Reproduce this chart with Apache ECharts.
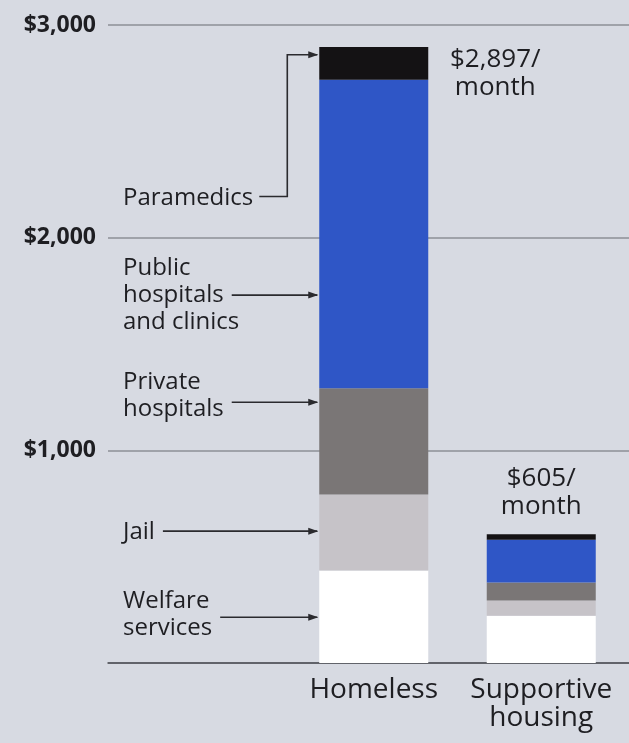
<!DOCTYPE html>
<html>
<head>
<meta charset="utf-8">
<script src="https://cdn.jsdelivr.net/npm/echarts@6/dist/echarts.min.js"></script>
<style>
html,body{margin:0;padding:0;background:#d7dae2;}
#main{width:629px;height:743px;}
</style>
</head>
<body>
<div id="main"></div>
<script>
// ---- data ----
const categories = ['Homeless', 'Supportive\nhousing'];
const welfare = [435, 222];
const jail = [357, 72];
const privateHosp = [500, 85];
const publicHosp = [1450, 201];
const paramedics = [155, 25];
const totals = [2897, 605];
const totalLabels = ['$2,897/\nmonth', '$605/\nmonth'];
const yTicks = [0, 1000, 2000, 3000];
const annotationNames = ['Paramedics', 'Public\nhospitals\nand clinics', 'Private\nhospitals', 'Jail', 'Welfare\nservices'];
const annotationArrowValues = [2860, 1730, 1226, 620, 215];
const annotationTextValues = [2184, 1730, 1255, 615, 225];

// ---- style ----
const FONT = 'Open Sans';
const TEXT = '#1e1e22';
const colors = {
  welfare: '#ffffff',
  jail: '#c6c3c8',
  privateHosp: '#7a7676',
  publicHosp: '#2f56c6',
  paramedics: '#141214'
};
const BAR_W = 109;

const chart = echarts.init(document.getElementById('main'), null, {renderer: 'canvas'});

function seg(name, data, color) {
  return {
    name: name, type: 'bar', stack: 'total', xAxisIndex: 1, yAxisIndex: 1,
    barWidth: BAR_W, data: data, itemStyle: {color: color}, silent: true
  };
}

const option = {
  backgroundColor: '#d7dae2',
  animation: false,
  grid: [
    {left: 108, right: 0, top: 25, bottom: 80},
    {left: 290, right: 4, top: 25, bottom: 80}
  ],
  xAxis: [
    {type: 'category', gridIndex: 0, data: [''], axisLine: {show: true, lineStyle: {color: '#4e4f55', width: 1.5}},
     axisTick: {show: false}, axisLabel: {show: false}},
    {type: 'category', gridIndex: 1, data: categories, axisLine: {show: false}, axisTick: {show: false},
     axisLabel: {color: TEXT, fontFamily: FONT, fontSize: 28, lineHeight: 28, margin: 13,
       interval: 0, hideOverlap: false}}
  ],
  yAxis: [
    {type: 'value', gridIndex: 0, min: yTicks[0], max: yTicks[yTicks.length - 1], interval: 1000,
     axisLine: {show: false}, axisTick: {show: false},
     splitLine: {show: true, lineStyle: {color: '#8d8f96', width: 1.5}},
     axisLabel: {color: TEXT, fontFamily: FONT, fontWeight: 'bold', fontSize: 23, margin: 12,
       formatter: v => v === 0 ? '' : '$' + v.toLocaleString('en-US')}},
    {type: 'value', gridIndex: 1, min: yTicks[0], max: yTicks[yTicks.length - 1], interval: 1000, show: false}
  ],
  series: [
    seg('Welfare services', welfare, colors.welfare),
    seg('Jail', jail, colors.jail),
    seg('Private hospitals', privateHosp, colors.privateHosp),
    seg('Public hospitals and clinics', publicHosp, colors.publicHosp),
    seg('Paramedics', paramedics, colors.paramedics)
  ]
};
chart.setOption(option);

// ---- annotations computed through the chart's scales ----
const ctx = document.createElement('canvas').getContext('2d');
function textW(s, size) { ctx.font = size + 'px "' + FONT + '"'; return ctx.measureText(s).width; }

const ANN_SIZE = 24, ANN_LH = 27, TEXT_X = 123;
const barLeft = chart.convertToPixel({xAxisIndex: 1, yAxisIndex: 1}, [0, 0])[0] - BAR_W / 2;
const graphics = [];
const lineStyle = {stroke: '#2a2a2e', lineWidth: 1.6};

function arrowHead(tipX, y) {
  return {type: 'polygon', shape: {points: [[tipX, y], [tipX - 10, y - 3.5], [tipX - 10, y + 3.5]]},
    style: {fill: '#2a2a2e'}, z: 100};
}

annotationNames.forEach((name, i) => {
  const lines = name.split('\n');
  const ty = chart.convertToPixel({yAxisIndex: 1}, annotationTextValues[i]);
  const ay = chart.convertToPixel({yAxisIndex: 1}, annotationArrowValues[i]);
  graphics.push({type: 'text', x: TEXT_X, y: ty, z: 100,
    style: {text: name, fill: TEXT, font: ANN_SIZE + 'px "' + FONT + '"', lineHeight: ANN_LH,
      textAlign: 'left', textVerticalAlign: 'middle'}});
  if (i === 0) {
    const w = textW(lines[0], ANN_SIZE);
    const sx = TEXT_X + w + 6, ex = sx + 28;
    graphics.push({type: 'polyline', z: 100, shape: {points: [[sx, ty - 2], [ex, ty - 2], [ex, ay], [barLeft - 2, ay]]}, style: lineStyle});
    graphics.push(arrowHead(barLeft - 1, ay));
  } else {
    const row = Math.round((ay - (ty - (lines.length - 1) * ANN_LH / 2)) / ANN_LH);
    const r = Math.max(0, Math.min(lines.length - 1, row));
    const w = textW(lines[r], ANN_SIZE);
    const sx = TEXT_X + w + 8;
    graphics.push({type: 'polyline', z: 100, shape: {points: [[sx, ay], [barLeft - 2, ay]]}, style: lineStyle});
    graphics.push(arrowHead(barLeft - 1, ay));
  }
});

// total labels
totals.forEach((t, i) => {
  const p = chart.convertToPixel({xAxisIndex: 1, yAxisIndex: 1}, [i, t]);
  if (i === 0) {
    graphics.push({type: 'text', x: p[0] + BAR_W / 2 + 67, y: p[1] - 1, z: 100,
      style: {text: totalLabels[i], fill: TEXT, font: '26px "' + FONT + '"', lineHeight: 28,
        textAlign: 'center', textVerticalAlign: 'top'}});
  } else {
    graphics.push({type: 'text', x: p[0], y: p[1] - 14, z: 100,
      style: {text: totalLabels[i], fill: TEXT, font: '26px "' + FONT + '"', lineHeight: 28,
        textAlign: 'center', textVerticalAlign: 'bottom'}});
  }
});

chart.setOption({graphic: graphics});
</script>
</body>
</html>
